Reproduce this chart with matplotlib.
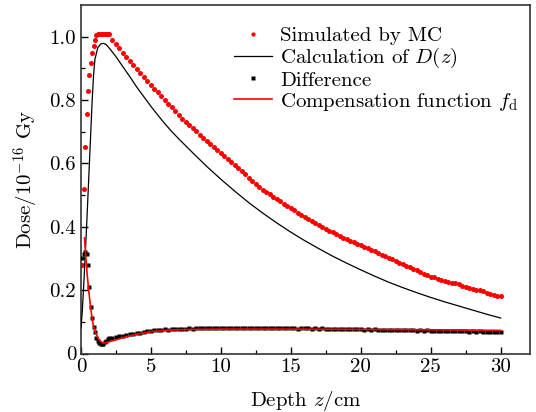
import matplotlib
matplotlib.use("Agg")
import matplotlib.pyplot as plt
import numpy as np

plt.rcParams['font.family'] = 'cmr10'
plt.rcParams['mathtext.fontset'] = 'cm'
plt.rcParams['axes.unicode_minus'] = False
plt.rcParams['axes.formatter.use_mathtext'] = True

# ---- data ----
depth_near = [0.1, 0.2, 0.3, 0.4, 0.5, 0.6, 0.7, 0.8, 0.9, 1.0,
              1.1, 1.2, 1.3, 1.4, 1.5, 1.6, 1.7, 1.8, 1.9]
depth_far = [2.0 + 0.25 * i for i in range(113)]  # 2.0 ... 30.0 sample depths

mc_near = [0.28, 0.52, 0.653, 0.756, 0.828, 0.88, 0.917, 0.947, 0.97, 0.991,
           1.004, 1.008, 1.008, 1.008, 1.008, 1.008, 1.008, 1.008, 1.008]
mc_far = [1.008, 0.990, 0.976, 0.963, 0.950, 0.937, 0.924, 0.911, 0.899, 0.886,
          0.873, 0.860, 0.848, 0.836, 0.824, 0.812, 0.801, 0.789, 0.777, 0.765,
          0.753, 0.741, 0.730, 0.720, 0.711, 0.701, 0.691, 0.681, 0.672, 0.662,
          0.652, 0.643, 0.633, 0.623, 0.614, 0.604, 0.594, 0.585, 0.575, 0.565,
          0.555, 0.546, 0.536, 0.526, 0.517, 0.509, 0.502, 0.495, 0.488, 0.480,
          0.473, 0.466, 0.459, 0.452, 0.445, 0.438, 0.431, 0.425, 0.419, 0.413,
          0.407, 0.400, 0.394, 0.388, 0.382, 0.376, 0.371, 0.366, 0.361, 0.356,
          0.351, 0.346, 0.341, 0.336, 0.332, 0.327, 0.322, 0.317, 0.312, 0.307,
          0.302, 0.297, 0.292, 0.287, 0.282, 0.277, 0.272, 0.267, 0.262, 0.257,
          0.252, 0.247, 0.243, 0.240, 0.236, 0.233, 0.230, 0.227, 0.224, 0.221,
          0.218, 0.214, 0.211, 0.208, 0.205, 0.202, 0.199, 0.196, 0.192, 0.189,
          0.186, 0.183, 0.180]

diff_near = [0.300, 0.315, 0.320, 0.315, 0.280, 0.210, 0.148, 0.112, 0.083, 0.068,
             0.050, 0.040, 0.033, 0.031, 0.030, 0.031, 0.035, 0.040, 0.045]
diff_far = [0.048, 0.050, 0.053, 0.054, 0.056, 0.058, 0.060, 0.062, 0.064, 0.066,
            0.068, 0.070, 0.072, 0.073, 0.074, 0.075, 0.076, 0.075, 0.077, 0.077,
            0.078, 0.077, 0.078, 0.079, 0.078, 0.079, 0.080, 0.079, 0.080, 0.079,
            0.080, 0.081, 0.080, 0.079, 0.080, 0.081, 0.080, 0.079, 0.080, 0.080,
            0.079, 0.080, 0.081, 0.080, 0.079, 0.080, 0.081, 0.080, 0.079, 0.080,
            0.079, 0.080, 0.080, 0.079, 0.078, 0.079, 0.080, 0.079, 0.078, 0.079,
            0.078, 0.079, 0.078, 0.077, 0.078, 0.077, 0.078, 0.077, 0.076, 0.077,
            0.076, 0.077, 0.076, 0.075, 0.076, 0.075, 0.076, 0.075, 0.074, 0.075,
            0.074, 0.075, 0.074, 0.073, 0.074, 0.073, 0.074, 0.073, 0.072, 0.073,
            0.072, 0.073, 0.072, 0.071, 0.072, 0.071, 0.072, 0.071, 0.070, 0.071,
            0.070, 0.071, 0.070, 0.069, 0.070, 0.069, 0.070, 0.069, 0.068, 0.069,
            0.068, 0.068, 0.067]

calc_depth = [0.0, 0.1, 0.2, 0.3, 0.4, 0.5, 0.6, 0.7, 0.8, 0.9, 1.0, 1.2, 1.4,
              1.6, 1.8, 2.0, 2.5, 3.0, 3.5, 4.0, 4.5, 5.0, 5.5, 6.0, 6.5, 7.0,
              7.5, 8.0, 9.0, 10.0, 11.0, 12.0, 13.0, 14.0, 15.0, 16.0, 17.0,
              18.0, 19.0, 20.0, 21.0, 22.0, 23.0, 24.0, 25.0, 26.0, 27.0, 28.0,
              29.0, 30.0]
calc_dose = [0.08, 0.14, 0.22, 0.31, 0.40, 0.50, 0.60, 0.70, 0.80, 0.88, 0.93,
             0.965, 0.977, 0.979, 0.975, 0.965, 0.937, 0.905, 0.873, 0.840,
             0.810, 0.780, 0.752, 0.725, 0.700, 0.677, 0.655, 0.633, 0.590,
             0.550, 0.512, 0.476, 0.443, 0.412, 0.383, 0.356, 0.331, 0.307,
             0.285, 0.264, 0.244, 0.225, 0.208, 0.192, 0.177, 0.163, 0.150,
             0.137, 0.124, 0.112]

comp_depth = [0.25, 0.35, 0.45, 0.55, 0.65, 0.75, 0.85, 1.0, 1.2, 1.4, 1.6, 1.8,
              2.0, 2.5, 3.0, 3.5, 4.0, 4.5, 5.0, 6.0, 7.0, 8.0, 10.0, 15.0,
              20.0, 25.0, 30.0]
comp_val = [0.365, 0.300, 0.245, 0.200, 0.160, 0.125, 0.095, 0.070, 0.050,
            0.038, 0.033, 0.034, 0.037, 0.043, 0.050, 0.056, 0.061, 0.065,
            0.069, 0.073, 0.075, 0.076, 0.077, 0.077, 0.076, 0.075, 0.073]

x_ticks = [0, 5, 10, 15, 20, 25, 30]
y_ticks = [0, 0.2, 0.4, 0.6, 0.8, 1.0]
y_tick_labels = ['0', '0.2', '0.4', '0.6', '0.8', '1.0']

FS = 15

fig = plt.figure(figsize=(5.36, 4.12), dpi=100)
ax = fig.add_axes([81 / 536, 1 - 353.5 / 412, (530 - 81) / 536, (353.5 - 5) / 412])

mc_x = depth_near + depth_far
ax.plot(mc_x, mc_near + mc_far, linestyle='none', marker='o', ms=3.6,
        mec='none', mfc='red', label='Simulated by MC', zorder=2)
ax.plot(calc_depth, calc_dose, color='black', lw=0.9,
        label=r'Calculation of $D(z)$', zorder=3)
ax.plot(mc_x, diff_near + diff_far, linestyle='none', marker='s', ms=2.8,
        mec='none', mfc='black', label='Difference', zorder=3)
ax.plot(comp_depth, comp_val, color='red', lw=1.2,
        label=r'Compensation function $f_{\rm d}$', zorder=4)

ax.set_xlim(0, 32.1)
ax.set_ylim(0, 1.1)
ax.set_xticks(x_ticks)
ax.set_xticklabels([str(t) for t in x_ticks])
ax.set_xticks(np.arange(2.5, 32, 5), minor=True)
ax.set_yticks(y_ticks)
ax.set_yticklabels(y_tick_labels)
ax.set_yticks([0.1, 0.3, 0.5, 0.7, 0.9], minor=True)
ax.tick_params(which='both', direction='in', labelsize=FS, colors='black')
ax.tick_params(which='major', length=5, width=1.0)
ax.tick_params(which='minor', length=3, width=0.9)
for s in ax.spines.values():
    s.set_linewidth(1.2)
    s.set_color('#333333')

ax.set_xlabel(r'Depth $z$/cm', fontsize=FS, labelpad=9)
ax.set_ylabel(r'Dose/10$^{-16}$ Gy', fontsize=FS, labelpad=6)

leg = ax.legend(loc='upper left', bbox_to_anchor=(0.341, 0.939), frameon=False,
                fontsize=FS, handlelength=1.8, handletextpad=0.4,
                labelspacing=0.05, borderpad=0, borderaxespad=0, markerscale=0.85)

fig.savefig('out.png', dpi=100)
